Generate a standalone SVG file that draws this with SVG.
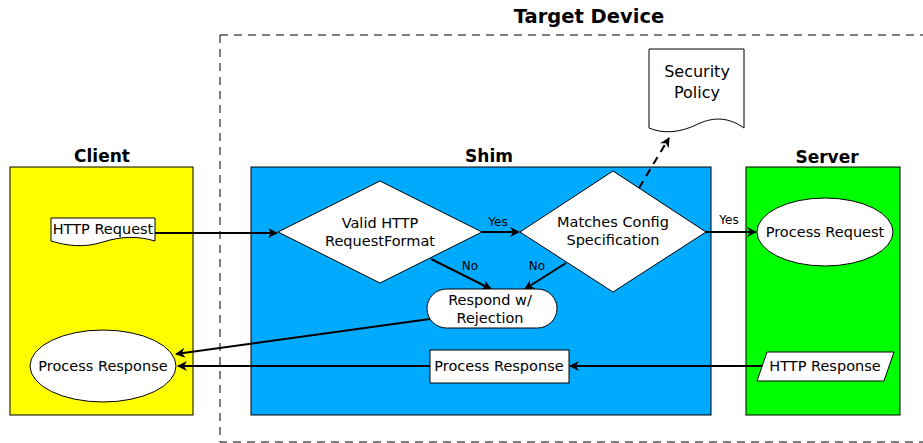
<svg xmlns="http://www.w3.org/2000/svg" width="923" height="443" viewBox="0 0 923 443">
<style>
text{font-family:"DejaVu Sans","Liberation Sans",sans-serif;fill:#000}
.title{font-weight:bold;font-size:17px;text-anchor:middle}
.t{font-size:14.5px;text-anchor:middle}
.lbl{font-size:12px;text-anchor:middle}
.shape{fill:#fff;stroke:#000;stroke-width:1}
.lane{stroke:#000;stroke-width:1}
.conn{fill:none;stroke:#000;stroke-width:2}
</style>
<defs>
<marker id="ah" viewBox="0 0 10 10" refX="9" refY="5" markerWidth="12" markerHeight="10" orient="auto" markerUnits="userSpaceOnUse">
<path d="M0,0 L10,5 L0,10 L3,5 Z" fill="#000"/>
</marker>
</defs>
<rect width="923" height="443" fill="#fff"/>
<g id="target-device">
<rect x="220" y="35" width="710" height="407" fill="none" stroke="#000" stroke-width="1" stroke-dasharray="8,6"/>
<text class="title" x="589" y="23" style="font-size:19.5px">Target Device</text>
</g>
<g id="client">
<rect class="lane" x="10" y="167" width="183" height="248" fill="#ffff00"/>
<text class="title" x="102" y="162">Client</text>
</g>
<g id="shim">
<rect class="lane" x="251" y="167" width="460" height="248" fill="#00aaff"/>
<text class="title" x="489" y="162">Shim</text>
</g>
<g id="server">
<rect class="lane" x="746" y="167" width="154" height="248" fill="#00ff00"/>
<text class="title" x="827" y="163">Server</text>
</g>
<g id="connectors">
<line class="conn" x1="155" y1="233" x2="277" y2="233" marker-end="url(#ah)"/>
<line class="conn" x1="482" y1="232" x2="519" y2="232" marker-end="url(#ah)"/>
<text class="lbl" x="498" y="226">Yes</text>
<line class="conn" x1="706" y1="232" x2="756" y2="232" marker-end="url(#ah)"/>
<text class="lbl" x="729" y="224">Yes</text>
<line class="conn" x1="431" y1="259" x2="491" y2="289" marker-end="url(#ah)"/>
<text class="lbl" x="470" y="270">No</text>
<line class="conn" x1="566" y1="263" x2="525" y2="289" marker-end="url(#ah)"/>
<text class="lbl" x="537" y="270">No</text>
<line class="conn" x1="430" y1="319" x2="176" y2="354" marker-end="url(#ah)"/>
<line class="conn" x1="762" y1="366" x2="570" y2="366" marker-end="url(#ah)"/>
<line class="conn" x1="430" y1="366" x2="178" y2="366" marker-end="url(#ah)"/>
<line class="conn" x1="639" y1="188" x2="669" y2="138" stroke-dasharray="8,6" marker-end="url(#ah)"/>
</g>
<g id="http-request">
<path class="shape" d="M51,218 H155 V241 C138,236 122,236 103,242 C84,248 68,246 51,241 Z"/>
<text class="t" x="103" y="234">HTTP Request</text>
</g>
<g id="valid-http">
<polygon class="shape" points="380,181 482,232 380,283 278,232"/>
<text class="t" x="380" y="228">Valid HTTP</text>
<text class="t" x="380" y="246">RequestFormat</text>
</g>
<g id="matches-config">
<polygon class="shape" points="613,171 706,232 613,292 520,232"/>
<text class="t" x="613" y="227">Matches Config</text>
<text class="t" x="613" y="245">Specification</text>
</g>
<g id="respond-rejection">
<rect class="shape" x="427" y="289" width="130" height="39" rx="19.5"/>
<text class="t" x="490" y="305">Respond w/</text>
<text class="t" x="490" y="323">Rejection</text>
</g>
<g id="security-policy">
<path class="shape" d="M649,49 H744 V128 C730,118 715,116 698,124 C680,133 663,134 649,128 Z"/>
<text class="t" x="697" y="77" style="font-size:16px">Security</text>
<text class="t" x="697" y="98" style="font-size:16px">Policy</text>
</g>
<g id="process-request">
<ellipse class="shape" cx="825" cy="232" rx="68" ry="34"/>
<text class="t" x="825" y="237">Process Request</text>
</g>
<g id="http-response">
<polygon class="shape" points="767,352 894,352 884,381 757,381"/>
<text class="t" x="825" y="371">HTTP Response</text>
</g>
<g id="process-response-shim">
<rect class="shape" x="430" y="350" width="139" height="33"/>
<text class="t" x="499" y="371">Process Response</text>
</g>
<g id="process-response-client">
<ellipse class="shape" cx="103" cy="366" rx="73" ry="36"/>
<text class="t" x="103" y="371">Process Response</text>
</g>
</svg>
